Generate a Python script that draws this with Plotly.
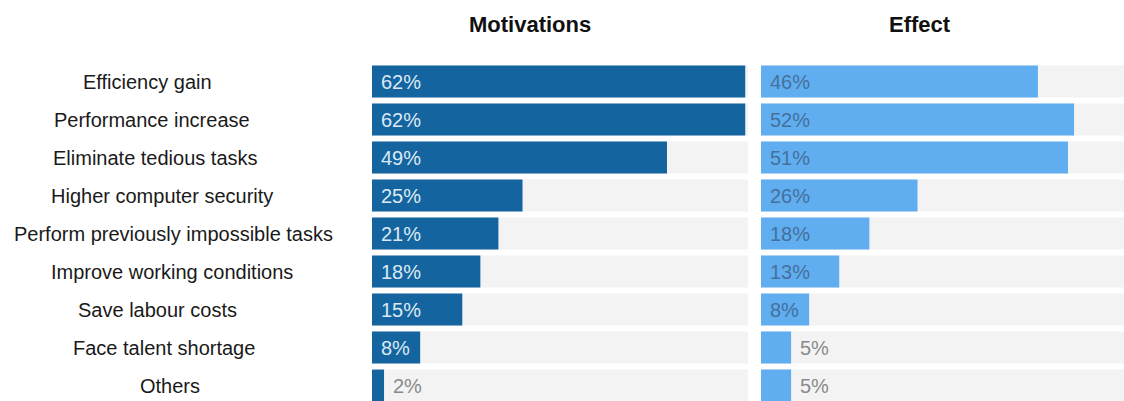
import plotly.graph_objects as go

# Survey data: motivations for adopting automation vs. the effect observed
categories = [
    "Efficiency gain",
    "Performance increase",
    "Eliminate tedious tasks",
    "Higher computer security",
    "Perform previously impossible tasks",
    "Improve working conditions",
    "Save labour costs",
    "Face talent shortage",
    "Others",
]
motivations = [62, 62, 49, 25, 21, 18, 15, 8, 2]
effect = [46, 52, 51, 26, 18, 13, 8, 5, 5]
panel_titles = ["Motivations", "Effect"]

W, H = 1124, 401
PX_PER_PCT = 6.02

# Panel geometry (pixels)
mot_x0, mot_x1 = 372, 748
eff_x0, eff_x1 = 761, 1124
mot_max = (mot_x1 - mot_x0) / PX_PER_PCT
eff_max = (eff_x1 - eff_x0) / PX_PER_PCT

ROW_PITCH = 38
first_center = 81.5
top_px = first_center - ROW_PITCH / 2
y_dom_top = 1 - top_px / H
y_bottom_val = -0.5 + (H - top_px) / ROW_PITCH

# horizontal centre (px) of each row label
label_centers = [147, 152, 155, 162, 173, 172, 157, 164, 170]

DARK = "#14659f"
LIGHT = "#60aef0"
TRACK = "#f3f3f3"
FONT = "Liberation Sans, Arial, sans-serif"

fig = go.Figure()

panels = [
    ("x", "y", motivations, mot_max, DARK, "#dce9f5"),
    ("x2", "y2", effect, eff_max, LIGHT, "#44709c"),
]

for xa, ya, vals, vmax, color, txtcolor in panels:
    # light grey track behind each bar
    fig.add_trace(go.Bar(
        x=[vmax] * len(categories), y=categories, orientation="h",
        marker=dict(color=TRACK, line_width=0), xaxis=xa, yaxis=ya,
        hoverinfo="skip", showlegend=False,
    ))
    fig.add_trace(go.Bar(
        x=vals, y=categories, orientation="h",
        marker=dict(color=color, line_width=0), xaxis=xa, yaxis=ya,
        showlegend=False,
    ))
    for cat, v in zip(categories, vals):
        inside = v >= 8
        fig.add_annotation(
            x=0 if inside else v, y=cat, xref=xa, yref=ya,
            text=f"{v}%", showarrow=False, xanchor="left",
            xshift=7, yshift=0,
            font=dict(family=FONT, size=20,
                      color=txtcolor if inside else "#8a8a8a"),
        )

# category labels on the left
for cat, cx in zip(categories, label_centers):
    fig.add_annotation(
        x=cx / W, xref="paper", y=cat, yref="y",
        text=cat, showarrow=False, xanchor="center",
        font=dict(family=FONT, size=20, color="#1a1a1a"),
    )

# panel headings
for title, cx in zip(panel_titles, [530, 920]):
    fig.add_annotation(
        x=cx / W, xref="paper", y=1 - 24 / H, yref="paper",
        text=f"<b>{title}</b>", showarrow=False, xanchor="center", yanchor="middle",
        font=dict(family=FONT, size=22, color="#111111"),
    )

axis_common = dict(showgrid=False, zeroline=False, showticklabels=False,
                   showline=False, ticks="", fixedrange=True)
fig.update_layout(
    width=W, height=H,
    margin=dict(l=0, r=0, t=0, b=0),
    paper_bgcolor="white", plot_bgcolor="white",
    barmode="overlay", bargap=0.16,
    xaxis=dict(domain=[mot_x0 / W, mot_x1 / W], range=[0, mot_max], anchor="y",
               **axis_common),
    xaxis2=dict(domain=[eff_x0 / W, eff_x1 / W], range=[0, eff_max], anchor="y2",
                **axis_common),
    yaxis=dict(domain=[0, y_dom_top], range=[y_bottom_val, -0.5], type="category",
               anchor="x", **axis_common),
    yaxis2=dict(domain=[0, y_dom_top], range=[y_bottom_val, -0.5], type="category",
                anchor="x2", **axis_common),
)

fig.write_html("out.html")
